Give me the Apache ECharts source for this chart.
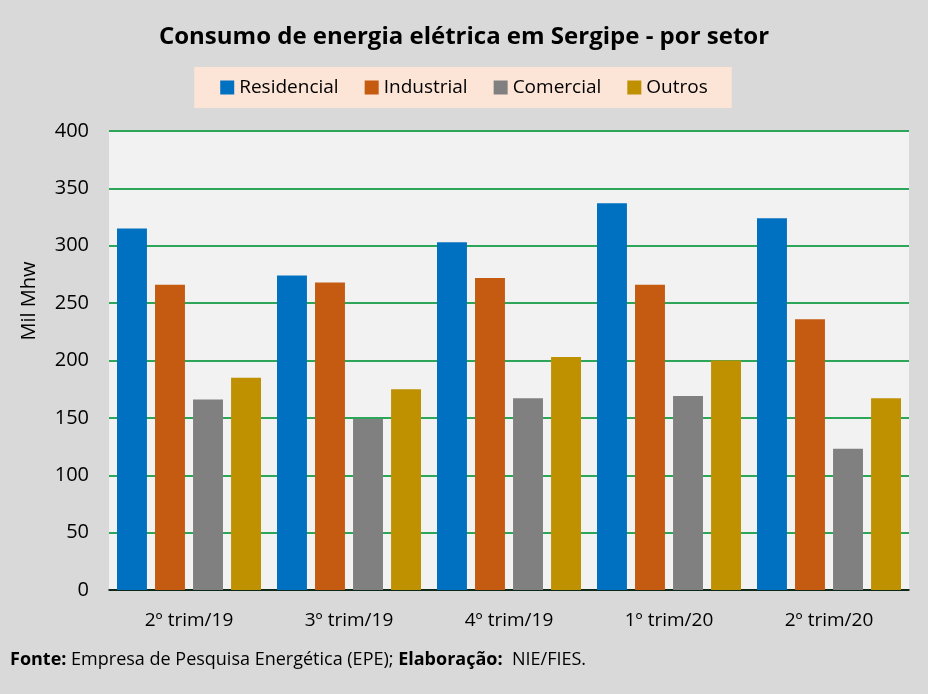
<!DOCTYPE html>
<html>
<head>
<meta charset="utf-8">
<script src="https://cdn.jsdelivr.net/npm/echarts@6/dist/echarts.min.js"></script>
<style>
  html, body { margin: 0; padding: 0; background: #d9d9d9; }
  #chart { width: 928px; height: 694px; }
</style>
</head>
<body>
<div id="chart"></div>
<script>
const categories = ['2º trim/19', '3º trim/19', '4º trim/19', '1º trim/20', '2º trim/20'];
const residencial = [315, 274, 303, 337, 324];
const industrial = [266, 268, 272, 266, 236];
const comercial = [166, 149, 167, 169, 123];
const outros = [185, 175, 203, 200, 167];
const yTicks = { min: 0, max: 400, interval: 50 };

const FONT = '"Open Sans", "Noto Sans", sans-serif';

const bar = (name, data, color) => ({
  name,
  type: 'bar',
  data,
  barGap: '27%',
  barCategoryGap: '10%',
  itemStyle: { color },
});

const chart = echarts.init(document.getElementById('chart'));

chart.setOption({
  backgroundColor: '#d9d9d9',
  textStyle: { fontFamily: FONT },
  title: {
    text: 'Consumo de energia elétrica em Sergipe - por setor',
    left: 'center',
    top: 20,
    textStyle: { fontFamily: FONT, fontSize: 24, fontWeight: 'bold', color: '#000' },
  },
  legend: {
    top: 67,
    left: 'center',
    backgroundColor: '#fce4d6',
    padding: [11, 24, 11, 26],
    itemGap: 26,
    itemWidth: 14,
    itemHeight: 14,
    icon: 'rect',
    textStyle: { fontFamily: FONT, fontSize: 19, color: '#000' },
  },
  grid: {
    left: 109,
    right: 19,
    top: 131,
    bottom: 104,
    show: true,
    backgroundColor: '#f2f2f2',
    borderWidth: 0,
  },
  xAxis: [
    {
      type: 'category',
      data: categories,
      axisLine: { lineStyle: { color: '#000', width: 1.5 } },
      axisTick: { inside: true, length: 7, lineStyle: { color: '#000', width: 1.5 } },
      axisLabel: { fontFamily: FONT, fontSize: 19, color: '#000', margin: 21 },
    },
    {
      // second axis only for the ticks under each group's centre
      type: 'category',
      data: categories,
      position: 'bottom',
      offset: 0,
      axisLine: { show: false },
      axisTick: { alignWithLabel: true, length: 8, lineStyle: { color: '#000', width: 1.5 } },
      axisLabel: { show: false },
    },
  ],
  yAxis: {
    type: 'value',
    min: yTicks.min,
    max: yTicks.max,
    interval: yTicks.interval,
    axisLine: { show: false },
    axisTick: { show: false },
    axisLabel: { fontFamily: FONT, fontSize: 20, color: '#000', margin: 20 },
    splitLine: { lineStyle: { color: '#2ea65a', width: 2 } },
  },
  series: [
    bar('Residencial', residencial, '#0070c0'),
    bar('Industrial', industrial, '#c55a11'),
    bar('Comercial', comercial, '#808080'),
    bar('Outros', outros, '#bf9000'),
  ],
  graphic: [
    {
      type: 'text',
      x: 29,
      y: 301,
      rotation: Math.PI / 2,
      style: {
        text: 'Mil Mhw',
        fontFamily: FONT,
        fontSize: 20,
        fill: '#000',
        align: 'center',
        verticalAlign: 'middle',
      },
    },
    {
      type: 'text',
      left: 10,
      top: 651,
      style: {
        text: '{b|Fonte:} Empresa de Pesquisa Energética (EPE); {b|Elaboração:}  NIE/FIES.',
        fontFamily: FONT,
        fontSize: 18,
        fill: '#000',
        rich: {
          b: { fontFamily: FONT, fontSize: 18, fontWeight: 'bold', fill: '#000' },
        },
      },
    },
  ],
});
</script>
</body>
</html>
